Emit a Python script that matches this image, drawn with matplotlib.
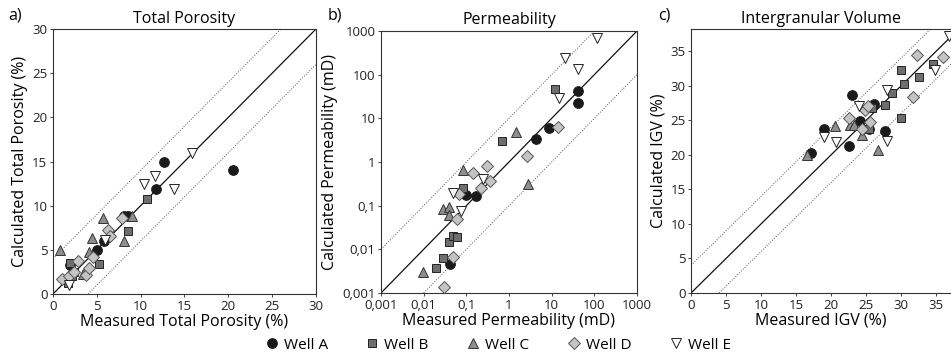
import matplotlib

matplotlib.use("Agg")
import matplotlib.pyplot as plt
import matplotlib.ticker as mticker
from matplotlib.lines import Line2D

plt.rcParams["font.family"] = ["Open Sans", "DejaVu Sans"]

# ---- a) total porosity (measured, calculated) ----
por_a_x = [1.9, 5.0, 5.8, 8.1, 8.6, 11.7, 12.7, 20.5]
por_a_y = [3.3, 5.0, 6.0, 8.8, 8.8, 11.9, 14.9, 14.0]
por_b_x = [1.9, 1.7, 2.2, 2.4, 5.2, 8.5, 10.7]
por_b_y = [3.5, 1.2, 2.0, 2.5, 3.4, 7.1, 10.8]
por_c_x = [0.8, 4.4, 4.1, 5.7, 8.1, 9.0, 3.4]
por_c_y = [5.0, 6.3, 4.8, 8.6, 6.0, 8.8, 2.3]
por_d_x = [1.0, 1.8, 2.9, 3.8, 4.1, 4.6, 6.3, 6.5, 7.9, 2.4]
por_d_y = [1.7, 2.0, 3.7, 2.2, 3.0, 4.2, 7.3, 6.6, 8.6, 2.5]
por_e_x = [1.8, 10.4, 11.6, 13.8, 15.8, 5.9]
por_e_y = [1.0, 12.4, 13.4, 11.9, 16.0, 6.1]

# ---- b) permeability (mD) ----
perm_a_x = [0.041, 0.1, 0.17, 4.2, 8.7, 42, 42]
perm_a_y = [0.0047, 0.18, 0.17, 3.4, 6.0, 42, 22]
perm_b_x = [0.019, 0.029, 0.039, 0.048, 0.059, 0.085, 0.68, 11.8]
perm_b_y = [0.0038, 0.0064, 0.015, 0.020, 0.019, 0.26, 3.0, 48]
perm_c_x = [0.0095, 0.029, 0.040, 0.039, 0.085, 1.5, 2.8]
perm_c_y = [0.0030, 0.086, 0.095, 0.060, 0.66, 4.8, 0.32]
perm_d_x = [0.030, 0.049, 0.059, 0.066, 0.146, 0.30, 0.22, 0.36, 2.6, 13.8]
perm_d_y = [0.0014, 0.0068, 0.049, 0.19, 0.55, 0.80, 0.26, 0.37, 1.4, 6.5]
perm_e_x = [0.048, 0.075, 0.25, 14.6, 21, 41, 117]
perm_e_y = [0.20, 0.076, 0.41, 30, 235, 138, 700]

# ---- c) intergranular volume ----
igv_a_x = [17.1, 19.0, 22.6, 23.0, 24.1, 25.4, 26.1, 27.7]
igv_a_y = [20.2, 23.7, 21.2, 28.6, 24.9, 23.7, 27.3, 23.4]
igv_b_x = [25.4, 25.8, 27.7, 28.7, 30.0, 30.0, 30.4, 32.6, 34.5]
igv_b_y = [23.8, 26.7, 27.2, 29.0, 32.2, 25.3, 30.2, 31.3, 33.1]
igv_c_x = [16.5, 20.5, 22.7, 23.2, 24.4, 26.7]
igv_c_y = [19.9, 24.1, 24.3, 24.3, 22.9, 20.7]
igv_d_x = [22.6, 24.8, 25.2, 25.6, 24.4, 31.7, 32.2, 35.9]
igv_d_y = [25.3, 26.5, 27.1, 24.7, 23.8, 28.4, 34.5, 34.1]
igv_e_x = [19.0, 20.7, 24.0, 27.9, 27.9, 34.8, 36.8]
igv_e_y = [22.6, 21.8, 27.1, 29.4, 22.0, 32.2, 37.2]

wells = ["Well A", "Well B", "Well C", "Well D", "Well E"]
STYLE = {
    "Well A": dict(marker="o", ms=7.0, mfc="#1a1a1a", mec="#1a1a1a"),
    "Well B": dict(marker="s", ms=6.4, mfc="#6e6e6e", mec="#222222"),
    "Well C": dict(marker="^", ms=6.6, mfc="#8e8e8e", mec="#333333"),
    "Well D": dict(marker="D", ms=6.6, mfc="#c4c4c4", mec="#555555"),
    "Well E": dict(marker="v", ms=6.8, mfc="white", mec="#222222"),
}


def scatter_wells(ax, xs, ys):
    for name, x, y in zip(wells, xs, ys):
        ax.plot(x, y, ls="none", mew=0.7, zorder=3, **STYLE[name])


def style_axes(ax):
    for s in ax.spines.values():
        s.set_linewidth(0.8)
        s.set_color("#333333")
    ax.tick_params(direction="out", length=2.5, width=0.6, labelsize=9.5,
                   colors="#222222", pad=1.5)


fig = plt.figure(figsize=(9.51, 3.55), dpi=100)
ax_a = fig.add_axes([0.0557, 0.1718, 0.2766, 0.7465])
ax_b = fig.add_axes([0.4006, 0.1746, 0.2692, 0.738])
ax_c = fig.add_axes([0.7266, 0.1746, 0.2734, 0.7437])

# a) Total porosity
ax_a.plot([0, 30], [0, 30], color="#111111", lw=0.9, zorder=2)
ax_a.plot([0, 26], [4, 30], color="#555555", lw=0.7, ls=":", zorder=2)
ax_a.plot([4, 30], [0, 26], color="#555555", lw=0.7, ls=":", zorder=2)
scatter_wells(ax_a, [por_a_x, por_b_x, por_c_x, por_d_x, por_e_x],
              [por_a_y, por_b_y, por_c_y, por_d_y, por_e_y])
ax_a.set_xlim(0, 30)
ax_a.set_ylim(0, 30)
ax_a.set_xticks(range(0, 31, 5))
ax_a.set_yticks(range(0, 31, 5))
ax_a.set_xlabel("Measured Total Porosity (%)", fontsize=11.5, labelpad=1)
ax_a.set_ylabel("Calculated Total Porosity (%)", fontsize=11.5, labelpad=3)
ax_a.set_title("Total Porosity", fontsize=11.5, pad=4)
style_axes(ax_a)

# b) Permeability
ax_b.plot([1e-3, 1e3], [1e-3, 1e3], color="#111111", lw=0.9, zorder=2)
ax_b.plot([1e-3, 1e2], [1e-2, 1e3], color="#555555", lw=0.7, ls=":", zorder=2)
ax_b.plot([1e-2, 1e3], [1e-3, 1e2], color="#555555", lw=0.7, ls=":", zorder=2)
scatter_wells(ax_b, [perm_a_x, perm_b_x, perm_c_x, perm_d_x, perm_e_x],
              [perm_a_y, perm_b_y, perm_c_y, perm_d_y, perm_e_y])
ax_b.set_xscale("log")
ax_b.set_yscale("log")
ax_b.set_xlim(1e-3, 1e3)
ax_b.set_ylim(1e-3, 1e3)
decades = [0.001, 0.01, 0.1, 1, 10, 100, 1000]
dec_labels = ["0,001", "0,01", "0,1", "1", "10", "100", "1000"]
ax_b.xaxis.set_major_locator(mticker.FixedLocator(decades))
ax_b.yaxis.set_major_locator(mticker.FixedLocator(decades))
ax_b.xaxis.set_major_formatter(mticker.FixedFormatter(dec_labels))
ax_b.yaxis.set_major_formatter(mticker.FixedFormatter(dec_labels))
ax_b.xaxis.set_minor_locator(mticker.NullLocator())
ax_b.yaxis.set_minor_locator(mticker.NullLocator())
ax_b.set_xlabel("Measured Permeability (mD)", fontsize=11.5, labelpad=1)
ax_b.set_ylabel("Calculated Permeability (mD)", fontsize=11.5, labelpad=3)
ax_b.set_title("Permeability", fontsize=11.5, pad=5)
style_axes(ax_b)

# c) Intergranular volume
ax_c.plot([0, 40], [0, 40], color="#111111", lw=0.9, zorder=2)
ax_c.plot([0, 36], [4, 40], color="#555555", lw=0.7, ls=":", zorder=2)
ax_c.plot([4, 40], [0, 36], color="#555555", lw=0.7, ls=":", zorder=2)
scatter_wells(ax_c, [igv_a_x, igv_b_x, igv_c_x, igv_d_x, igv_e_x],
              [igv_a_y, igv_b_y, igv_c_y, igv_d_y, igv_e_y])
ax_c.set_xlim(0, 37.1)
ax_c.set_ylim(0, 38.2)
ax_c.set_xticks(range(0, 36, 5))
ax_c.set_yticks(range(0, 36, 5))
ax_c.spines["right"].set_visible(False)
ax_c.set_xlabel("Measured IGV (%)", fontsize=11.5, labelpad=1)
ax_c.set_ylabel("Calculated IGV (%)", fontsize=11.5, labelpad=3)
ax_c.set_title("Intergranular Volume", fontsize=11.5, pad=4)
style_axes(ax_c)

# panel letters
fig.text(0.009, 0.955, "a)", fontsize=11.5, va="center")
fig.text(0.345, 0.955, "b)", fontsize=11.5, va="center")
fig.text(0.692, 0.955, "c)", fontsize=11.5, va="center")

handles = [Line2D([], [], ls="none", mew=0.7, **STYLE[w]) for w in wells]
fig.legend(handles, wells, loc="center", bbox_to_anchor=(0.523, 0.028),
           ncol=5, frameon=False, fontsize=11, handletextpad=0.3,
           columnspacing=2.4, handlelength=1.0, borderpad=0)

fig.savefig("out.png", dpi=100)
